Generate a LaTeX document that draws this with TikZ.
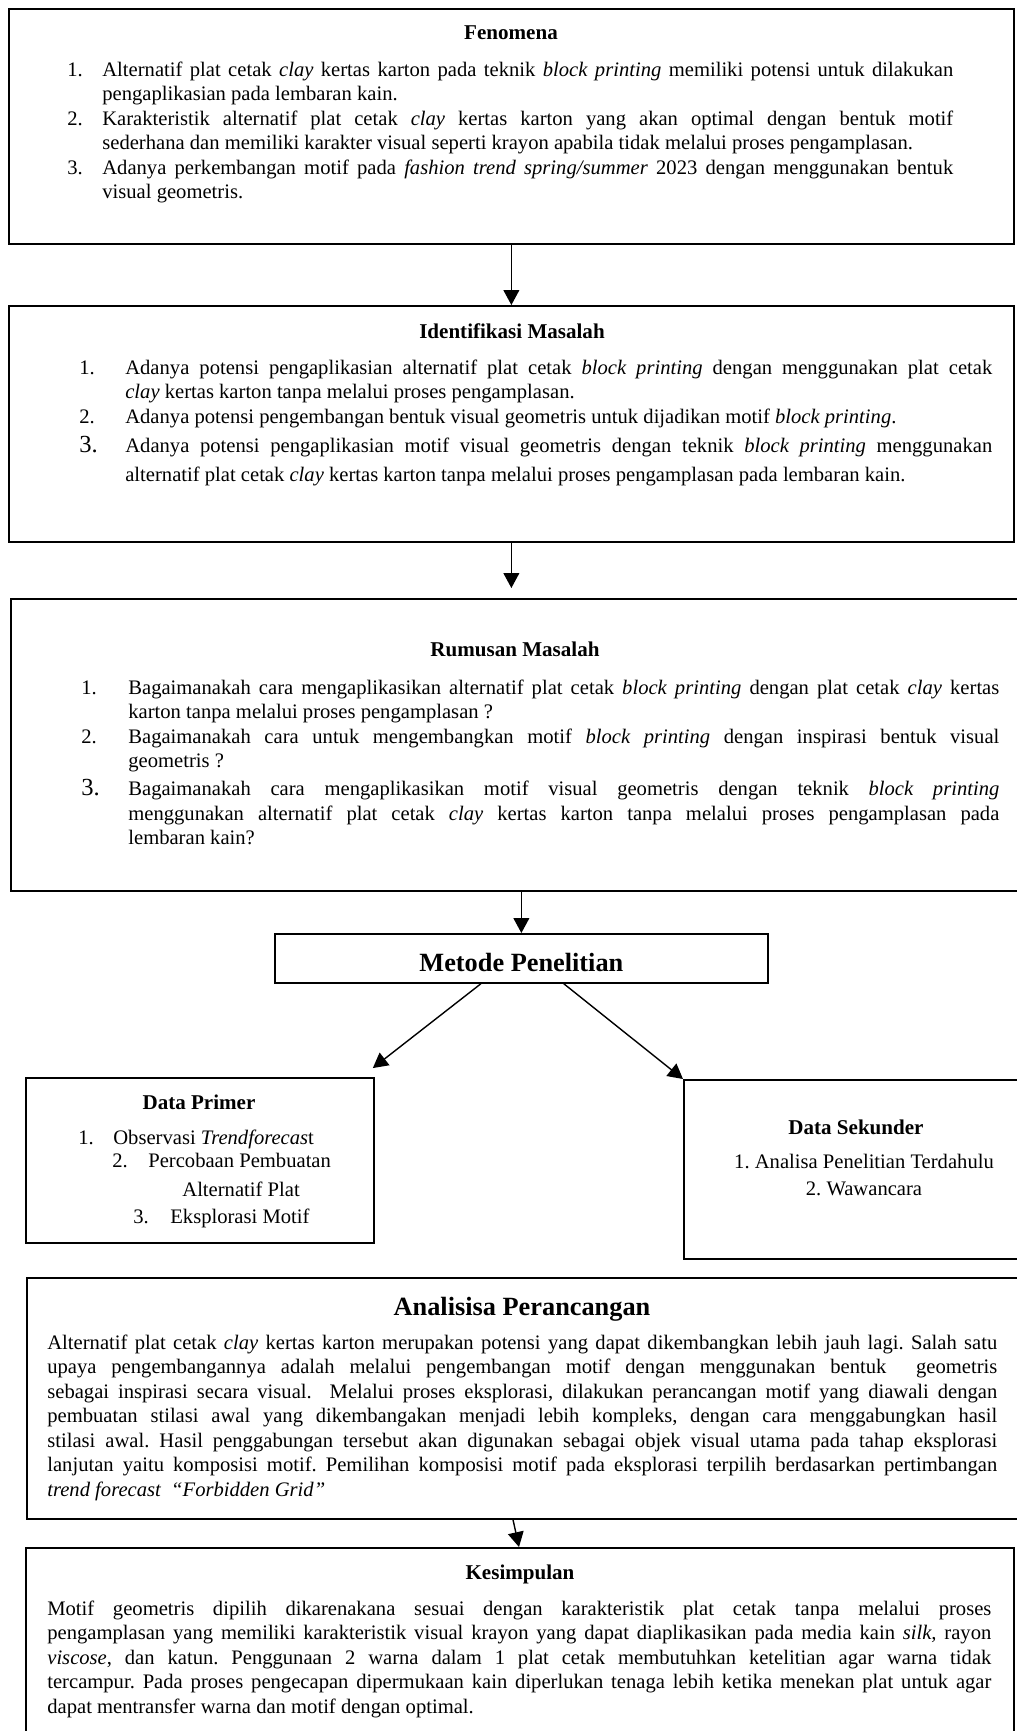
\documentclass[tikz,border=0pt]{standalone}
\usepackage{fontspec}
\setmainfont{Liberation Serif}
\usetikzlibrary{arrows.meta}
\usetikzlibrary{positioning}

\newlength{\lebarno}
\newcommand{\butir}[3][]{\ifx\relax#1\relax\else\vspace{#1}\fi\noindent\hangindent=\lebarno\hangafter=1\makebox[\lebarno][l]{#2}#3\par}
\tolerance=9999
\hbadness=10000
\hyphenpenalty=10000
\exhyphenpenalty=10000
\frenchspacing

\begin{document}
\begin{tikzpicture}[x=0.57pt, y=-0.57pt,
  kotak/.style={draw, line width=1pt, anchor=north west, inner sep=0pt},
  judul/.style={anchor=base, inner sep=0pt, font=\bfseries\fontsize{12}{14}\selectfont},
  judulbesar/.style={anchor=base, inner sep=0pt, font=\bfseries\fontsize{15}{18}\selectfont},
  isi/.style={anchor=base west, inner sep=0pt, align=justify, font=\fontsize{11.75}{14}\selectfont},
  panah/.style={-{Triangle[length=8.5pt,width=9pt]}, line width=0.8pt}]

 \useasboundingbox (0,0) rectangle (1017,1731);
 \clip (0,0) rectangle (1017,1731);

 \node[kotak, minimum width=572.85pt, minimum height=133.95pt] (fenomena) at (8,8) {};
 \node[kotak, minimum width=572.85pt, minimum height=134.52pt] (identifikasi) at (8,305) {};
 \node[kotak, minimum width=581.4pt, minimum height=166.44pt] (rumusan) at (10,598) {};
 \node[kotak, minimum width=281.01pt, minimum height=27.93pt, text height=14.8pt, text depth=0pt, font=\bfseries\fontsize{15}{18}\selectfont] (metode) at (274,933) {Metode Penelitian};
 \node[kotak, minimum width=198.36pt, minimum height=94.05pt] (primer) at (25,1077) {};
 \node[kotak, minimum width=199.5pt, minimum height=102.03pt] (sekunder) at (683,1079) {};
 \node[kotak, minimum width=575.7pt, minimum height=137.37pt] (analisa) at (26,1277) {};
 \node[kotak, minimum width=563.16pt, minimum height=114pt] (kesimpulan) at (25,1547) {};

 \node[judul] (fenjudul) at (511,39) {Fenomena};
 \node[isi, text width=505pt] (fenisi) at (67,76) {\setlength{\lebarno}{19.95pt}%
  \butir{1.}{Alternatif plat cetak \textit{clay} kertas karton pada teknik \textit{block printing} memiliki potensi untuk dilakukan\linebreak pengaplikasian pada lembaran kain.}%
  \butir{2.}{Karakteristik alternatif plat cetak \textit{clay} kertas karton yang akan optimal dengan bentuk motif\linebreak sederhana dan memiliki karakter visual seperti krayon apabila tidak melalui proses pengamplasan.}%
  \butir{3.}{Adanya perkembangan motif pada \textit{fashion trend spring/summer} 2023 dengan menggunakan bentuk\linebreak visual geometris.}};

 \node[judul] (identjudul) at (512,338) {Identifikasi Masalah};
 \node[isi, text width=520.4pt] (identisi) at (79,374) {\setlength{\lebarno}{26.2pt}%
  \butir{1.}{Adanya potensi pengaplikasian alternatif plat cetak \textit{block printing} dengan menggunakan plat cetak\linebreak \textit{clay} kertas karton tanpa melalui proses pengamplasan.}%
  \butir{2.}{Adanya potensi pengembangan bentuk visual geometris untuk dijadikan motif \textit{block printing}.}%
  \butir[1pt]{{\fontsize{14}{16}\selectfont 3.}}{\fontsize{11.75}{16}\selectfont Adanya potensi pengaplikasian motif visual geometris dengan teknik \textit{block printing} menggunakan\linebreak alternatif plat cetak \textit{clay} kertas karton tanpa melalui proses pengamplasan pada lembaran kain.}};

 \node[judul] (rumjudul) at (515,656) {Rumusan Masalah};
 \node[isi, text width=523.3pt] (rumisi) at (81,694) {\setlength{\lebarno}{26.8pt}%
  \butir{1.}{Bagaimanakah cara mengaplikasikan alternatif plat cetak \textit{block printing} dengan plat cetak \textit{clay} kertas\linebreak karton tanpa melalui proses pengamplasan ?}%
  \butir{2.}{Bagaimanakah cara untuk mengembangkan motif \textit{block printing} dengan inspirasi bentuk visual\linebreak geometris ?}%
  \butir[2pt]{{\fontsize{14}{16}\selectfont 3.}}{Bagaimanakah cara mengaplikasikan motif visual geometris dengan teknik \textit{block printing}\linebreak menggunakan alternatif plat cetak \textit{clay} kertas karton tanpa melalui proses pengamplasan pada\linebreak lembaran kain?}};

 \node[judul] (primerjudul) at (199,1109) {Data Primer};
 \node[isi, align=left, font=\fontsize{11.75}{13.1}\selectfont] (primerisi) at (78,1223) {\makebox[19.95pt][l]{1.}Observasi \textit{Trendforecas}t\\
  \hspace*{19.4pt}\makebox[20.5pt][l]{2.}Percobaan Pembuatan\\[2.9pt]
  \hspace*{59.3pt}Alternatif Plat\\[2.3pt]
  \hspace*{31.35pt}\makebox[21.1pt][l]{3.}Eksplorasi Motif};

 \node[judul] (sekunderjudul) at (856,1134) {Data Sekunder};
 \node[isi, anchor=base, align=center, font=\fontsize{11.75}{15.4}\selectfont] (sekunderisi) at (864,1195) {1. Analisa Penelitian Terdahulu\\ 2. Wawancara};

 \node[judulbesar] (analisajudul) at (522,1315) {Analisisa Perancangan};
 \node[isi, text width=541.5pt] (analisaisi) at (47,1349) {Alternatif plat cetak \textit{clay} kertas karton merupakan potensi yang dapat dikembangkan lebih jauh lagi. Salah satu\linebreak upaya pengembangannya adalah melalui pengembangan motif dengan menggunakan bentuk\ \ geometris\linebreak sebagai inspirasi secara visual.\ \ Melalui proses eksplorasi, dilakukan perancangan motif yang diawali dengan\linebreak pembuatan stilasi awal yang dikembangakan menjadi lebih kompleks, dengan cara menggabungkan hasil\linebreak stilasi awal. Hasil penggabungan tersebut akan digunakan sebagai objek visual utama pada tahap eksplorasi\linebreak lanjutan yaitu komposisi motif. Pemilihan komposisi motif pada eksplorasi terpilih berdasarkan pertimbangan\linebreak \textit{trend forecast\ \ “Forbidden Grid”}\par};

 \node[judul] (kesimpulanjudul) at (520,1579) {Kesimpulan};
 \node[isi, text width=538.1pt] (kesimpulanisi) at (47,1615) {Motif geometris dipilih dikarenakana sesuai dengan karakteristik plat cetak tanpa melalui proses\linebreak pengamplasan yang memiliki karakteristik visual krayon yang dapat diaplikasikan pada media kain \textit{silk,} rayon\linebreak \textit{viscose}, dan katun. Penggunaan 2 warna dalam 1 plat cetak membutuhkan ketelitian agar warna tidak\linebreak tercampur. Pada proses pengecapan dipermukaan kain diperlukan tenaga lebih ketika menekan plat untuk agar\linebreak dapat mentransfer warna dan motif dengan optimal.\par};

 \draw[panah] (fenomena.south) -- (identifikasi.north);
 \draw[panah, shorten >=5.7pt] (identifikasi.south) -- (identifikasi.south |- rumusan.north);
 \draw[panah] (rumusan.south -| metode.north) -- (metode.north);
 \draw[panah] ([xshift=-23.1pt]metode.south) -- ([xshift=-1.1pt, yshift=5.1pt]primer.north east);
 \draw[panah] ([xshift=24.2pt]metode.south) -- (sekunder.north west);
 \draw[panah] ([xshift=277.6pt]analisa.south west) -- ([xshift=281.6pt]kesimpulan.north west);

\end{tikzpicture}
\end{document}
